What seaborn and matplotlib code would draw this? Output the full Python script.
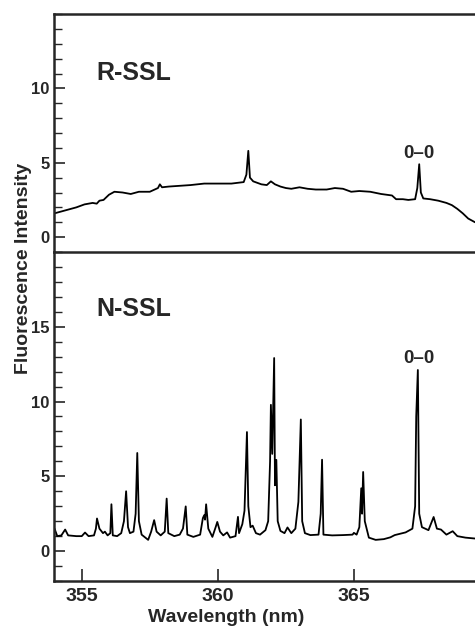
import numpy as np
import pandas as pd
import matplotlib
matplotlib.use("Agg")
import matplotlib.pyplot as plt
from matplotlib.ticker import MultipleLocator
import seaborn as sns

# ---- data ----
r_wl = [354.00, 354.40, 354.80, 355.10, 355.40, 355.55, 355.65, 355.80, 356.00, 356.20,
        356.50, 356.80, 357.10, 357.50, 357.80, 357.87, 357.95, 358.20, 358.60, 359.00,
        359.50, 360.00, 360.50, 360.95, 361.05, 361.12, 361.18, 361.30, 361.60, 361.80,
        361.95, 362.10, 362.30, 362.50, 362.70, 363.00, 363.30, 363.60, 364.00, 364.30,
        364.60, 364.90, 365.20, 365.60, 366.00, 366.40, 366.55, 366.80, 367.00, 367.25,
        367.33, 367.40, 367.46, 367.55, 367.80, 368.10, 368.40, 368.60, 368.80, 369.00,
        369.20, 369.45]
r_int = [1.60, 1.80, 2.00, 2.20, 2.30, 2.25, 2.45, 2.50, 2.85, 3.05,
         3.00, 2.90, 3.05, 3.05, 3.30, 3.55, 3.35, 3.40, 3.45, 3.50,
         3.60, 3.60, 3.60, 3.70, 4.20, 5.80, 4.00, 3.75, 3.55, 3.50,
         3.75, 3.55, 3.40, 3.30, 3.25, 3.35, 3.25, 3.20, 3.20, 3.30,
         3.25, 3.05, 3.10, 3.05, 2.90, 2.80, 2.55, 2.55, 2.50, 2.55,
         3.30, 4.90, 3.00, 2.60, 2.55, 2.45, 2.30, 2.15, 1.90, 1.60,
         1.25, 1.00]

n_wl = [354.00, 354.10, 354.25, 354.39, 354.50, 354.80, 355.00, 355.12, 355.25, 355.45,
        355.52, 355.56, 355.65, 355.78, 355.85, 355.95, 356.05, 356.09, 356.14, 356.30,
        356.45, 356.55, 356.63, 356.70, 356.77, 356.90, 356.98, 357.04, 357.10, 357.20,
        357.44, 357.55, 357.66, 357.75, 357.90, 358.05, 358.12, 358.18, 358.40, 358.60,
        358.72, 358.82, 358.88, 359.10, 359.35, 359.45, 359.50, 359.53, 359.57, 359.65,
        359.80, 359.92, 359.98, 360.08, 360.20, 360.34, 360.45, 360.65, 360.74, 360.78,
        360.90, 360.98, 361.07, 361.12, 361.20, 361.28, 361.40, 361.55, 361.75, 361.85,
        361.92, 361.95, 362.00, 362.07, 362.10, 362.15, 362.20, 362.30, 362.45, 362.56,
        362.70, 362.85, 362.96, 363.05, 363.10, 363.20, 363.40, 363.70, 363.78, 363.83,
        363.88, 364.20, 364.60, 364.95, 365.00, 365.10, 365.20, 365.27, 365.30, 365.34,
        365.40, 365.55, 365.80, 366.10, 366.34, 366.50, 366.90, 367.15, 367.25, 367.29,
        367.35, 367.40, 367.50, 367.74, 367.93, 368.05, 368.20, 368.40, 368.63, 368.80,
        369.10, 369.45]
n_int = [1.50, 1.00, 1.05, 1.44, 1.05, 1.00, 1.00, 1.24, 1.00, 1.05,
         1.50, 2.18, 1.50, 1.20, 1.30, 1.05, 1.20, 3.13, 1.05, 1.00,
         1.20, 2.00, 4.00, 1.60, 1.20, 1.30, 2.50, 6.56, 2.00, 1.10,
         0.75, 1.30, 2.07, 1.30, 1.05, 1.30, 3.51, 1.20, 1.00, 1.10,
         1.51, 2.99, 1.10, 0.95, 1.10, 2.20, 2.40, 2.10, 3.13, 1.50,
         0.95, 1.60, 1.95, 1.30, 1.05, 1.25, 0.90, 1.00, 2.29, 1.20,
         1.80, 2.70, 7.96, 3.00, 1.60, 1.70, 1.20, 1.10, 1.40, 2.00,
         6.00, 9.78, 6.50, 12.91, 4.40, 6.10, 2.00, 1.35, 1.20, 1.58,
         1.20, 1.50, 3.29, 8.80, 2.00, 1.20, 1.07, 1.10, 2.50, 6.11,
         1.10, 1.05, 1.07, 1.10, 1.22, 1.10, 1.60, 4.20, 2.50, 5.29,
         2.00, 0.90, 0.75, 0.80, 0.92, 1.07, 1.25, 1.50, 3.00, 9.00,
         12.11, 2.50, 1.60, 1.40, 2.28, 1.50, 1.44, 1.10, 1.33, 1.00,
         0.90, 0.84]

panel_labels = ["R-SSL", "N-SSL"]
peak_label = "0\u20130"
x_ticks = [355, 360, 365]

# ---- plotting ----
sns.set_style("ticks")
plt.rcParams['font.family'] = ['Liberation Sans', 'DejaVu Sans']

fig = plt.figure(figsize=(4.75, 6.28), dpi=100)
L, R = 54 / 475, 1.0
y_top, y_mid, y_bot = 1 - 14 / 628, 1 - 252 / 628, 1 - 581 / 628
ax1 = fig.add_axes([L, y_mid, R - L, y_top - y_mid])
ax2 = fig.add_axes([L, y_bot, R - L, y_mid - y_bot], sharex=ax1)

df_r = pd.DataFrame({"wl": r_wl, "I": r_int})
df_n = pd.DataFrame({"wl": n_wl, "I": n_int})
sns.lineplot(data=df_r, x="wl", y="I", ax=ax1, color="black", lw=1.3, sort=False)
sns.lineplot(data=df_n, x="wl", y="I", ax=ax2, color="black", lw=1.3, sort=False)

ax1.set_xlim(353.98, 369.45)
ax1.set_ylim(-1, 15)
ax2.set_ylim(-2, 20)

for ax in (ax1, ax2):
    ax.spines['right'].set_visible(False)
    for s in ('left', 'top', 'bottom'):
        ax.spines[s].set_linewidth(1.8)
    ax.yaxis.set_major_locator(MultipleLocator(5))
    ax.yaxis.set_minor_locator(MultipleLocator(1))
    ax.tick_params(axis='y', which='major', direction='in', length=8, width=1.2,
                   labelsize=12, pad=3)
    ax.tick_params(axis='y', which='minor', direction='in', length=6, width=1.0)
    ax.set_xlabel("")
    ax.set_ylabel("")

ax1.spines['bottom'].set_visible(False)
ax1.tick_params(axis='x', which='both', bottom=False, labelbottom=False)
ax1.set_yticks([0, 5, 10])

ax2.set_xticks(x_ticks)
ax2.tick_params(axis='x', which='major', direction='in', length=9, width=1.2,
                labelsize=14, pad=5)
ax2.set_yticks([0, 5, 10, 15])
for ax in (ax1, ax2):
    for t in ax.get_yticklabels() + ax.get_xticklabels():
        t.set_fontweight('bold')

ax1.text(355.55, 11.0, panel_labels[0], fontsize=18, fontweight='bold', va='center', ha='left')
ax2.text(355.55, 16.2, panel_labels[1], fontsize=18, fontweight='bold', va='center', ha='left')
ax1.text(367.38, 5.6, peak_label, fontsize=13.5, fontweight='bold', va='center', ha='center')
ax2.text(367.37, 12.9, peak_label, fontsize=13.5, fontweight='bold', va='center', ha='center')

fig.text(24 / 475, 1 - 268 / 628, "Fluorescence Intensity", rotation=90, fontsize=14,
         fontweight='bold', va='center', ha='center')
fig.text(226 / 475, 1 - 618 / 628, "Wavelength (nm)", fontsize=14,
         fontweight='bold', va='center', ha='center')

fig.savefig("out.png", dpi=100)
